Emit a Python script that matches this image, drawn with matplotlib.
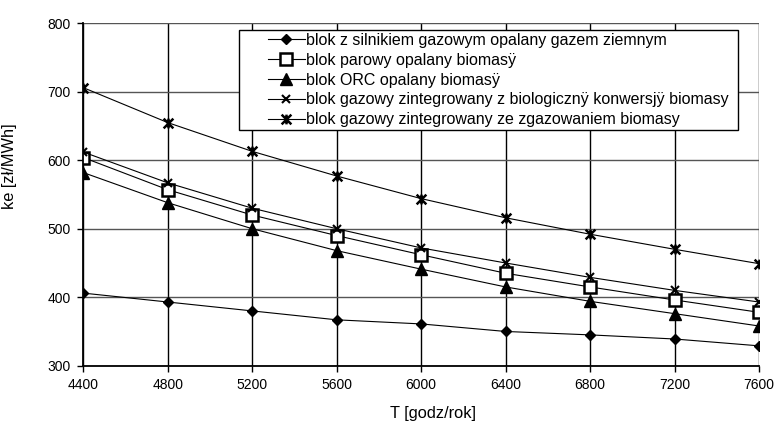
import matplotlib
matplotlib.use('Agg')
import matplotlib.pyplot as plt
from matplotlib.path import Path
from matplotlib.patches import Rectangle

plt.rcParams['font.family'] = ['Liberation Sans', 'DejaVu Sans']

hours = [4400, 4800, 5200, 5600, 6000, 6400, 6800, 7200, 7600]

silnik_gaz = [406, 393, 380, 367, 361, 350, 345, 339, 329]
parowy_bio = [604, 557, 520, 490, 462, 435, 415, 396, 378]
orc_bio = [582, 538, 500, 468, 441, 415, 394, 376, 358]
gaz_biol = [612, 567, 530, 500, 472, 450, 429, 410, 393]
gaz_zgaz = [706, 655, 613, 577, 544, 516, 492, 470, 449]

labels = [
    'blok z silnikiem gazowym opalany gazem ziemnym',
    'blok parowy opalany biomasÿ',
    'blok ORC opalany biomasÿ',
    'blok gazowy zintegrowany z biologicznÿ konwersjÿ biomasy',
    'blok gazowy zintegrowany ze zgazowaniem biomasy',
]

W, H = 777, 423

# x z pionowa kreska (jak gwiazdka w Excelu)
star = Path([(-1, -1), (1, 1), (-1, 1), (1, -1), (0, -1), (0, 1)],
            [Path.MOVETO, Path.LINETO, Path.MOVETO, Path.LINETO,
             Path.MOVETO, Path.LINETO])

fig = plt.figure(figsize=(W / 100, H / 100), dpi=100)
ax = fig.add_axes([83.3 / W, 1 - 365.7 / H, (759 - 83.3) / W, (365.7 - 23.3) / H])

ax.plot(hours, silnik_gaz, color='black', lw=0.8, marker='D',
        markersize=5.5, label=labels[0])
ax.plot(hours, parowy_bio, color='black', lw=0.8, marker='s',
        markersize=8.5, markerfacecolor='white', markeredgewidth=1.8,
        label=labels[1])
ax.plot(hours, orc_bio, color='black', lw=0.8, marker='^',
        markersize=8, label=labels[2])
ax.plot(hours, gaz_biol, color='black', lw=0.8, marker='x',
        markersize=6, markeredgewidth=1.5, label=labels[3])
ax.plot(hours, gaz_zgaz, color='black', lw=0.8, marker=star,
        markersize=7, markeredgewidth=1.8, label=labels[4])

ax.set_xlim(4400, 7600)
ax.set_ylim(300, 800)
ax.set_xticks(hours)
ax.set_yticks(range(300, 801, 100))
ax.tick_params(labelsize=10, length=4, width=1, direction='out', pad=5)

ax.grid(True, axis='y', color='#555555', lw=1)
ax.grid(True, axis='x', color='black', lw=1)
ax.set_axisbelow(True)
for side in ['top', 'right']:
    ax.spines[side].set_visible(False)
for side in ['left', 'bottom']:
    ax.spines[side].set_linewidth(1.3)

ax.set_xlabel('T [godz/rok]', fontsize=11.8)
ax.set_ylabel('ke [zł/MWh]', fontsize=11.8)
ax.xaxis.set_label_coords((433 - 83.3) / 675.7, (365.7 - 406) / 342.4)
ax.yaxis.set_label_coords((17 - 83.3) / 675.7, (365.7 - 166) / 342.4)

# ramka legendy rysowana osobno
fig.patches.append(Rectangle((239.5 / W, 1 - 130 / H), (738 - 239.5) / W,
                             100 / H, transform=fig.transFigure,
                             facecolor='white', edgecolor='black', lw=1,
                             zorder=5))
leg = fig.legend(loc='upper left', bbox_to_anchor=(268 / W, 1 - 33 / H),
                 fontsize=11.5, frameon=False, handlelength=2.3,
                 handletextpad=0.05, labelspacing=0.3, borderpad=0,
                 borderaxespad=0)
leg.set_zorder(6)

fig.savefig('out.png', dpi=100)
